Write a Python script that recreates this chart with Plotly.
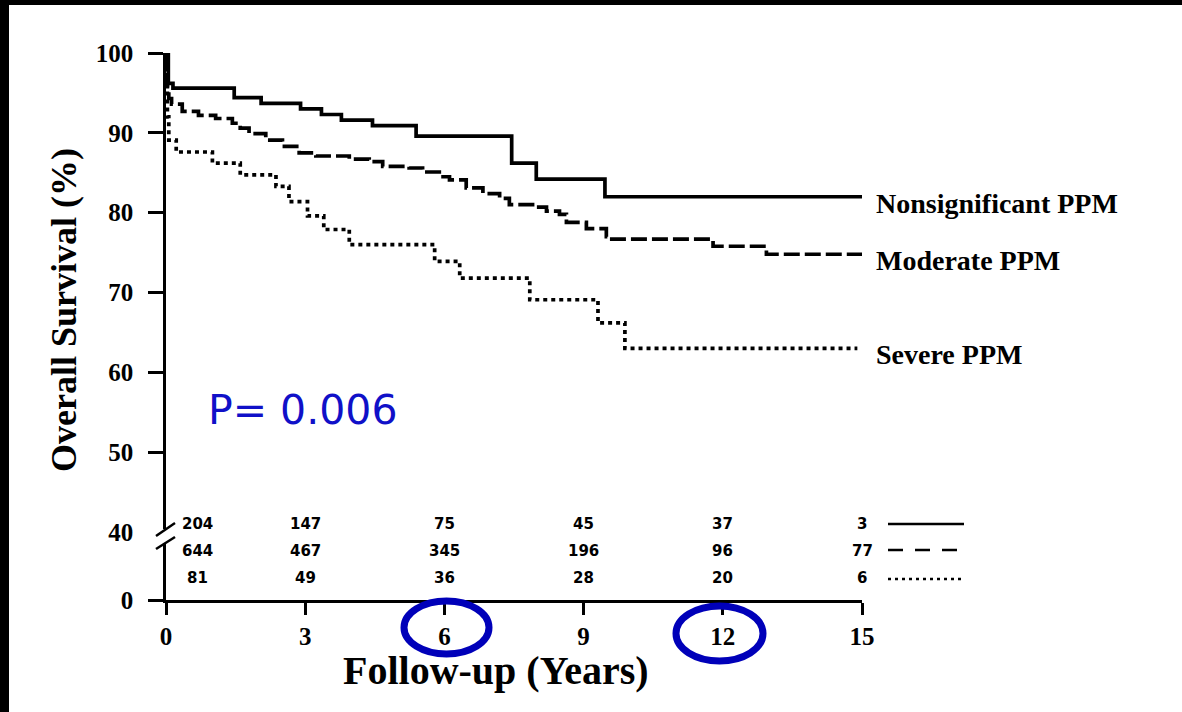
import plotly.graph_objects as go

# ---------------- data ----------------
years_nonsig = [0, 0.05, 0.15, 1.47, 2.05, 2.9, 3.35, 3.78, 4.45, 5.39, 7.45, 7.98, 9.46, 15.0]
surv_nonsig = [100, 96.2, 95.6, 94.4, 93.7, 93.0, 92.3, 91.6, 90.9, 89.6, 86.2, 84.2, 82.0, 82.0]

years_moderate = [0, 0.01, 0.03, 0.06, 0.12, 0.35, 0.7, 1.07, 1.43, 1.6, 1.79, 2.15, 2.51, 2.87,
                  3.23, 3.95, 4.38, 4.67, 5.24, 5.53, 5.89, 6.11, 6.47, 6.83, 7.19, 7.4, 7.9,
                  8.2, 8.48, 8.63, 9.06, 9.49, 9.56, 11.79, 12.94, 15.0]
surv_moderate = [100, 97.5, 95.5, 94.3, 93.6, 92.7, 92.2, 91.8, 91.2, 90.6, 89.9, 89.1, 88.3, 87.5,
                 87.1, 86.7, 86.4, 85.8, 85.6, 85.1, 84.5, 84.1, 83.1, 82.4, 81.8, 81.0, 80.7,
                 80.2, 79.8, 78.8, 78.0, 77.0, 76.7, 75.8, 74.8, 74.8]

years_severe = [0, 0.03, 0.06, 0.22, 1.0, 1.6, 2.37, 2.65, 3.05, 3.4, 3.95, 5.79, 6.33, 7.84,
                9.31, 9.89, 14.9]
surv_severe = [100, 92.0, 89.1, 87.6, 86.2, 84.75, 83.3, 81.4, 79.6, 77.9, 76.0, 73.9, 71.8, 69.1,
               66.2, 63.0, 63.0]

group_names = ["Nonsignificant PPM", "Moderate PPM", "Severe PPM"]

at_risk_years = [0, 3, 6, 9, 12, 15]
at_risk_nonsig = [204, 147, 75, 45, 37, 3]
at_risk_moderate = [644, 467, 345, 196, 96, 77]
at_risk_severe = [81, 49, 36, 28, 20, 6]

x_ticks = [0, 3, 6, 9, 12, 15]
y_ticks = [50, 60, 70, 80, 90, 100]
p_value_text = "P= 0.006"

# ---------------- layout geometry ----------------
W, H = 1182, 712
L, R, T, B = 166, 320, 53, 112
PW, PH = W - L - R, H - T - B
Y_ZERO = 31.5   # broken axis: this value is displayed as 0
Y_BREAK = 40


def px(xp):
    return (xp - L) / PW


def py(yp):
    return (H - B - yp) / PH


SERIF = "Liberation Serif, Times New Roman, serif"
NUMFONT = "DejaVu Sans, Arial, sans-serif"

fig = go.Figure()

styles = [
    dict(color="black", width=3.7),
    dict(color="black", width=3.7, dash="16px,5px"),
    dict(color="black", width=3.7, dash="4px,4px"),
]
series = [(years_nonsig, surv_nonsig), (years_moderate, surv_moderate), (years_severe, surv_severe)]
for (xs, ys), st, name in zip(series, styles, group_names):
    fig.add_trace(go.Scatter(x=xs, y=ys, mode="lines", name=name,
                             line=dict(shape="hv", **st), showlegend=False,
                             hoverinfo="skip"))

annotations = []
# curve labels (placed just right of the curve ends)
for (xs, ys), name in zip(series, group_names):
    yv = ys[-1] - 0.8
    annotations.append(dict(x=px(874), y=(yv - Y_ZERO) / (100 - Y_ZERO), xref="paper", yref="paper",
                            text=name, showarrow=False, xanchor="left", yanchor="middle",
                            font=dict(family=SERIF, size=28, color="black", weight="bold")))

# number at risk table
row_y = [41.0, 37.6, 34.2]
for counts, yv in zip([at_risk_nonsig, at_risk_moderate, at_risk_severe], row_y):
    for t, c in zip(at_risk_years, counts):
        annotations.append(dict(x=t, y=yv, xref="x", yref="y", text=str(c), showarrow=False,
                                xanchor="center", yanchor="middle",
                                xshift=31 if t == 0 else 0,
                                font=dict(family=NUMFONT, size=15, color="black", weight="bold")))

# P value
annotations.append(dict(x=2.95, y=55.3, xref="x", yref="y", text=p_value_text, showarrow=False,
                        xanchor="center", yanchor="middle",
                        font=dict(family="DejaVu Sans, sans-serif", size=41, color="rgb(16,16,200)")))

# axis titles
annotations.append(dict(x=7.12, y=py(670), xref="x", yref="paper", text="Follow-up (Years)",
                        showarrow=False, xanchor="center", yanchor="middle",
                        font=dict(family=SERIF, size=40, color="black", weight="bold")))
annotations.append(dict(x=px(64), y=py(310), xref="paper", yref="paper",
                        text="Overall Survival (%)", textangle=-90, showarrow=False,
                        xanchor="center", yanchor="middle",
                        font=dict(family=SERIF, size=36, color="black", weight="bold")))

shapes = []
# black frame bands
shapes.append(dict(type="rect", xref="paper", yref="paper", x0=px(0), x1=px(9), y0=py(H), y1=py(0),
                   fillcolor="black", line=dict(width=0), layer="above"))
shapes.append(dict(type="rect", xref="paper", yref="paper", x0=px(0), x1=px(W), y0=py(5), y1=py(0),
                   fillcolor="black", line=dict(width=0), layer="above"))
# axis break
shapes.append(dict(type="rect", xref="paper", yref="paper", x0=px(147), x1=px(172),
                   y0=py(543), y1=py(529), fillcolor="white", line=dict(width=0), layer="above"))
for y_a, y_b in [(536, 523), (549, 537)]:
    shapes.append(dict(type="line", xref="paper", yref="paper", x0=px(156), x1=px(175),
                       y0=py(y_a), y1=py(y_b), line=dict(color="black", width=2.5), layer="above"))
# at-risk line legend
shapes.append(dict(type="line", xref="paper", yref="paper", x0=px(888), x1=px(964),
                   y0=py(524), y1=py(524), line=dict(color="black", width=2.5)))
shapes.append(dict(type="line", xref="paper", yref="paper", x0=px(888), x1=px(960),
                   y0=py(550), y1=py(550), line=dict(color="black", width=2.5, dash="15px,12px")))
shapes.append(dict(type="line", xref="paper", yref="paper", x0=px(888), x1=px(963),
                   y0=py(579), y1=py(579), line=dict(color="black", width=2.5, dash="3px,4px")))
# highlight circles
for x0, x1, y0, y1 in [(404, 489, 654, 601), (676, 763, 661, 606)]:
    shapes.append(dict(type="circle", xref="paper", yref="paper", x0=px(x0), x1=px(x1),
                       y0=py(y0), y1=py(y1), line=dict(color="rgb(0,0,185)", width=7),
                       layer="above"))

fig.update_layout(
    width=W, height=H,
    margin=dict(l=L, r=R, t=T, b=B, pad=0),
    paper_bgcolor="white", plot_bgcolor="white",
    showlegend=False,
    annotations=annotations,
    shapes=shapes,
    xaxis=dict(range=[0, 15], tickvals=x_ticks, ticktext=[str(v) for v in x_ticks],
               showgrid=False, zeroline=False, showline=True, linecolor="black", linewidth=2.5,
               ticks="outside", ticklen=12, tickwidth=2.5, tickcolor="black",
               ticklabelstandoff=0,
               tickfont=dict(family=SERIF, size=25, color="black", weight="bold")),
    yaxis=dict(range=[Y_ZERO, 100], tickvals=[Y_ZERO, Y_BREAK] + y_ticks,
               ticktext=["0", str(Y_BREAK)] + [str(v) for v in y_ticks],
               showgrid=False, zeroline=False, showline=True, linecolor="black", linewidth=2.5,
               ticks="outside", ticklen=15, tickwidth=2.5, tickcolor="black",
               ticklabelstandoff=10,
               tickfont=dict(family=SERIF, size=25, color="black", weight="bold")),
)

fig.write_html(
    "out.html",
    config={"displayModeBar": False},
    post_script="document.body.style.margin='0';document.body.style.overflow='hidden';",
)
